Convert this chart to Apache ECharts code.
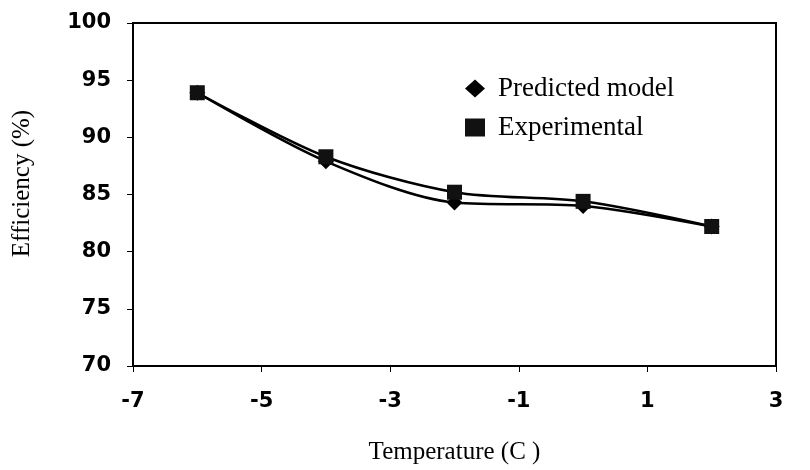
<!DOCTYPE html>
<html>
<head>
<meta charset="UTF-8">
<title>Efficiency vs Temperature</title>
<script type="text/javascript" src="https://cdn.jsdelivr.net/npm/echarts@6/dist/echarts.min.js"></script>
<style type="text/css">
	body{ margin:0; background:#fff; }
	#main{ width:810px; height:470px; }
</style>
</head>
<body>
<div id="main"></div>
<script type="text/javascript">
	// data
	var temps = [-6, -4, -2, 0, 2];
	var predicted = [93.9, 87.9, 84.3, 84.0, 82.2];
	var experimental = [93.9, 88.3, 85.2, 84.4, 82.2];

	function pairs(xs, ys){
		var out = [];
		for(var i = 0;i<xs.length;i++){
			out.push([xs[i], ys[i]]);
		}
		return out;
	}

	var myChart = echarts.init(document.getElementById('main'));

	var tickFont = {
		color: '#000',
		fontFamily: 'DejaVu Sans',
		fontWeight: 'bold',
		fontSize: 21
	};

	var nameFont = {
		color: '#000',
		fontFamily: 'Liberation Serif',
		fontSize: 25
	};

	var option = {
		animation: false,
		backgroundColor: '#fff',
		grid: {
			left: 133,
			right: 34,
			top: 23,
			bottom: 101,
			show: true,
			borderColor: '#000',
			borderWidth: 2
		},
		legend: {
			orient: 'vertical',
			left: 460,
			top: 70,
			itemGap: 12,
			itemWidth: 20,
			itemHeight: 18,
			textStyle: {
				color: '#000',
				fontFamily: 'Liberation Serif',
				fontSize: 27,
				padding: [0, 0, 0, 8]
			},
			data: [
				{name: 'Predicted model', icon: 'diamond'},
				{name: 'Experimental', icon: 'rect'}
			]
		},
		xAxis: {
			type: 'value',
			min: -7,
			max: 3,
			interval: 2,
			name: 'Temperature (C )',
			nameLocation: 'middle',
			nameGap: 74,
			nameTextStyle: nameFont,
			axisLine: {onZero: false, lineStyle: {color: '#000', width: 2}},
			axisTick: {inside: false, length: 6, lineStyle: {color: '#000'}},
			axisLabel: Object.assign({margin: 25}, tickFont),
			splitLine: {show: false}
		},
		yAxis: {
			type: 'value',
			min: 70,
			max: 100,
			interval: 5,
			name: 'Efficiency (%)',
			nameLocation: 'middle',
			nameGap: 98,
			nameRotate: 90,
			nameTextStyle: Object.assign({padding: [0, 0, 0, 22]}, nameFont),
			axisLine: {onZero: false, lineStyle: {color: '#000', width: 2}},
			axisTick: {inside: false, length: 6, lineStyle: {color: '#000'}},
			axisLabel: Object.assign({margin: 22}, tickFont),
			splitLine: {show: false}
		},
		series: [{
			name: 'Predicted model',
			type: 'line',
			smooth: 0.3,
			symbol: 'diamond',
			symbolSize: 16,
			itemStyle: {color: '#000'},
			lineStyle: {color: '#000', width: 2.5},
			data: pairs(temps, predicted)
		},{
			name: 'Experimental',
			type: 'line',
			smooth: 0.3,
			symbol: 'rect',
			symbolSize: 15,
			itemStyle: {color: '#111'},
			lineStyle: {color: '#000', width: 2.5},
			data: pairs(temps, experimental)
		}]
	};

	myChart.setOption(option);
</script>
</body>
</html>
